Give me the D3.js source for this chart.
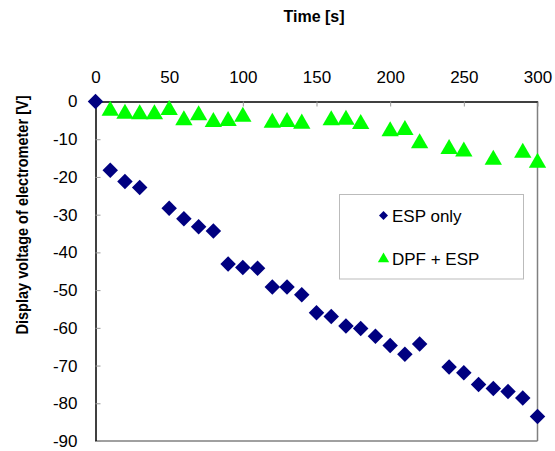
<!DOCTYPE html>
<html>
<head>
<meta charset="utf-8">
<script src="https://cdn.jsdelivr.net/npm/d3@7"></script>
<style>
body{margin:0;background:#fff;}
text{font-family:Arial,"Liberation Sans",sans-serif;}
</style>
</head>
<body>
<svg id="chart" width="555" height="451"></svg>
<script>
const espTime = [0,10,20,30,50,60,70,80,90,100,110,120,130,140,150,160,170,180,190,200,210,220,240,250,260,270,280,290,300];
const espVolt = [0,-18.2,-21.2,-22.8,-28.3,-31.1,-33.2,-34.3,-43.1,-44.0,-44.2,-49.2,-49.2,-51.2,-56.0,-57.0,-59.5,-60.2,-62.2,-64.7,-67.0,-64.3,-70.4,-71.9,-75.0,-76.1,-76.9,-78.6,-83.5];
const dpfTime = [10,20,30,40,50,60,70,80,90,100,120,130,140,160,170,180,200,210,220,240,250,270,290,300];
const dpfVolt = [-2.2,-3.0,-3.1,-3.1,-2.0,-4.7,-3.4,-5.2,-4.9,-3.8,-5.4,-5.2,-5.6,-4.7,-4.6,-5.7,-7.6,-7.3,-10.8,-12.3,-13.0,-15.2,-13.3,-16.0];
const xTicks = [0,50,100,150,200,250,300];
const yTicks = [0,-10,-20,-30,-40,-50,-60,-70,-80,-90];
const seriesNames = ["ESP only","DPF + ESP"];

const svg = d3.select("#chart");
const L = 95.5, R = 537.5, T = 101.5, B = 441;
const x = d3.scaleLinear().domain([0,300]).range([L,R]);
const y = d3.scaleLinear().domain([0,-90]).range([T,B]);
const fmt = d => String(d);

// plot border (right and bottom grey)
svg.append("line").attr("x1",R).attr("x2",R).attr("y1",T).attr("y2",B).attr("stroke","#808080").attr("stroke-width",1.5);
svg.append("line").attr("x1",L).attr("x2",R).attr("y1",B).attr("y2",B).attr("stroke","#808080").attr("stroke-width",1.5);

// top axis
const xAxis = d3.axisTop(x).tickValues(xTicks).tickFormat(fmt).tickSize(-5).tickPadding(19).tickSizeOuter(0);
const gx = svg.append("g").attr("transform",`translate(0,${T})`).call(xAxis);
gx.select(".domain").attr("stroke","#000").attr("stroke-width",1.5);
gx.selectAll(".tick line").attr("stroke","#999");
gx.selectAll(".tick text").attr("font-size","17px").attr("fill","#000").attr("dy","0");

// left axis
const yAxis = d3.axisLeft(y).tickValues(yTicks).tickFormat(fmt).tickSize(-5).tickPadding(18).tickSizeOuter(0);
const gy = svg.append("g").attr("transform",`translate(${L},0)`).call(yAxis);
gy.select(".domain").attr("stroke","#000").attr("stroke-width",1.5);
gy.selectAll(".tick line").attr("stroke","#999");
gy.selectAll(".tick text").attr("font-size","17px").attr("fill","#000");

// titles
svg.append("text").attr("x",314).attr("y",21.5).attr("text-anchor","middle")
  .attr("font-size","16px").attr("font-weight","bold").text("Time [s]");
svg.append("text").attr("transform","translate(27.5,215) rotate(-90)").attr("text-anchor","middle")
  .attr("font-size","16px").attr("font-weight","bold")
  .attr("textLength",239).attr("lengthAdjust","spacingAndGlyphs")
  .text("Display voltage of electrometer [V]");

const diamond = d3.symbol().type(d3.symbolSquare).size(120);
const tri = d3.symbol().type(d3.symbolTriangle).size(130);

// DPF + ESP triangles
svg.append("g").selectAll("path").data(dpfTime).join("path")
  .attr("d",tri)
  .attr("transform",(d,i)=>`translate(${x(d)},${y(dpfVolt[i])+1})`)
  .attr("fill","#00ff00");

// ESP only diamonds
svg.append("g").selectAll("path").data(espTime).join("path")
  .attr("d",diamond)
  .attr("transform",(d,i)=>`translate(${x(d)},${y(espVolt[i])}) rotate(45)`)
  .attr("fill","#000080");

// legend
const lg = svg.append("g");
lg.append("rect").attr("x",339.5).attr("y",194.5).attr("width",184).attr("height",84.5)
  .attr("fill","#fff").attr("stroke","#bbb").attr("stroke-width",1);
lg.append("path").attr("d",d3.symbol().type(d3.symbolSquare).size(40))
  .attr("transform","translate(383.5,215.5) rotate(45)").attr("fill","#000080");
lg.append("text").attr("x",392).attr("y",221.5).attr("font-size","17px").text(seriesNames[0]);
lg.append("path").attr("d",d3.symbol().type(d3.symbolTriangle).size(55))
  .attr("transform","translate(383.5,259)").attr("fill","#00ff00");
lg.append("text").attr("x",392).attr("y",265).attr("font-size","17px").text(seriesNames[1]);
</script>
</body>
</html>
